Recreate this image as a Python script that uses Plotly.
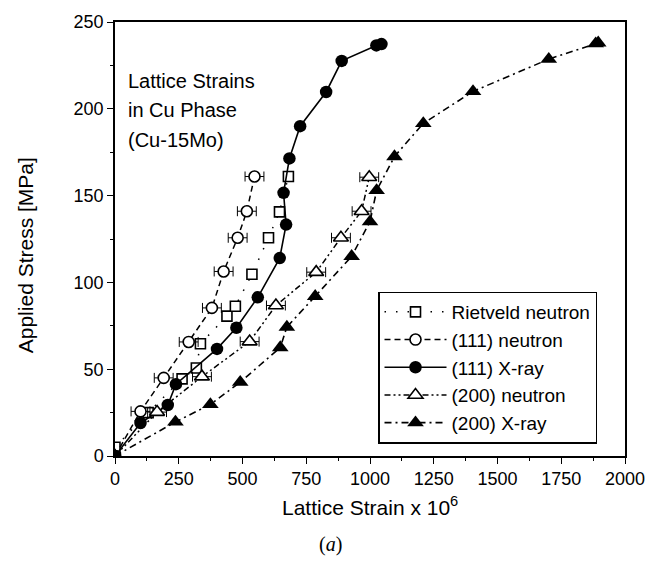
import plotly.graph_objects as go

# ---------------- data ----------------
riet_x = [0, 130, 263, 319, 335, 439, 472, 537, 602, 645, 680]
riet_y = [5, 25, 44.4, 50.7, 64.7, 80.6, 86.3, 104.7, 125.7, 140.6, 161]

n111_x = [0, 100, 191, 289, 380, 426, 481, 517, 547]
n111_y = [0, 25.7, 45, 65.7, 85.3, 106.3, 125.7, 141, 161]
n111_err = [0, 37, 37, 37, 37, 37, 37, 37, 37]

x111_x = [0, 100, 207, 239, 400, 476, 560, 646, 671, 661, 684, 726, 828, 889, 1025, 1045]
x111_y = [0, 19, 29.4, 41.4, 61.7, 73.9, 91.4, 114, 133.3, 151.6, 171.4, 190, 209.7, 227.6, 236.5, 237.3]

n200_x = [0, 165, 341, 528, 631, 789, 886, 967, 997]
n200_y = [0, 25.3, 45.7, 65.9, 86.7, 105.9, 125.7, 141, 160.6]
n200_err = [0, 37, 37, 37, 37, 37, 37, 37, 37]

x200_x = [0, 237, 374, 491, 648, 674, 785, 928, 1000, 1026, 1096, 1209, 1404, 1701, 1885, 1895]
x200_y = [0, 19.6, 29.7, 42.5, 62.5, 74.3, 92, 115, 135, 153, 172.5, 191.6, 210, 228.6, 237.5, 238]

names = ["Rietveld neutron", "(111) neutron", "(111) X-ray", "(200) neutron", "(200) X-ray"]

x_ticks = [0, 250, 500, 750, 1000, 1250, 1500, 1750, 2000]
y_ticks = [0, 50, 100, 150, 200, 250]

FONT = "Liberation Sans, Arial, sans-serif"

fig = go.Figure()

fig.add_trace(go.Scatter(
    x=riet_x, y=riet_y, name=names[0], mode="lines+markers",
    line=dict(color="black", width=1.5, dash="1.5px,10px"),
    marker=dict(symbol="square", size=10, color="white", line=dict(color="black", width=1.6)),
))
fig.add_trace(go.Scatter(
    x=n111_x, y=n111_y, name=names[1], mode="lines+markers",
    line=dict(color="black", width=1.5, dash="6px,4px"),
    marker=dict(symbol="circle", size=11, color="white", line=dict(color="black", width=1.6)),
    error_x=dict(type="data", array=n111_err, color="black", thickness=1, width=5),
))
fig.add_trace(go.Scatter(
    x=x111_x, y=x111_y, name=names[2], mode="lines+markers",
    line=dict(color="black", width=1.6),
    marker=dict(symbol="circle", size=12.5, color="black", line=dict(color="black", width=0)),
))
fig.add_trace(go.Scatter(
    x=n200_x, y=n200_y, name=names[3], mode="lines+markers",
    line=dict(color="black", width=1.5, dash="6px,3px,2px,3px,2px,3px"),
    marker=dict(symbol="triangle-up", size=13, color="white", line=dict(color="black", width=1.6)),
    error_x=dict(type="data", array=n200_err, color="black", thickness=1, width=5),
))
fig.add_trace(go.Scatter(
    x=x200_x, y=x200_y, name=names[4], mode="lines+markers",
    line=dict(color="black", width=1.6, dash="7px,4px,2px,4px"),
    marker=dict(symbol="triangle-up", size=14.5, color="black", line=dict(color="black", width=0)),
))

axis_common = dict(
    showgrid=False, zeroline=False, showline=True, linecolor="black", linewidth=1.5,
    mirror=True, ticks="outside", ticklen=6, tickwidth=1.2, tickcolor="black",
    tickfont=dict(family=FONT, size=18, color="black"),
)
fig.update_xaxes(range=[0, 2000], tickvals=x_ticks, ticktext=[str(v) for v in x_ticks],
                 minor=dict(dtick=125, tick0=0, ticks="outside", ticklen=3, tickcolor="black"),
                 **axis_common)
fig.update_yaxes(range=[0, 250], tickvals=y_ticks, ticktext=[str(v) for v in y_ticks],
                 minor=dict(dtick=25, tick0=0, ticks="outside", ticklen=3, tickcolor="black"),
                 **axis_common)

annots = [
    dict(text="Lattice Strains", x=0.0225, y=0.863),
    dict(text="in Cu Phase", x=0.0225, y=0.797),
    dict(text="(Cu-15Mo)", x=0.0225, y=0.729),
]
for a in annots:
    fig.add_annotation(xref="paper", yref="paper", xanchor="left", yanchor="middle",
                       showarrow=False, font=dict(family=FONT, size=20, color="black"), **a)

fig.add_annotation(xref="paper", yref="paper", x=-0.175, y=0.462, text="Applied Stress [MPa]",
                   textangle=-90, showarrow=False, xanchor="center", yanchor="middle",
                   font=dict(family=FONT, size=21, color="black"))
fig.add_annotation(xref="paper", yref="paper", x=0.5, y=-0.116, text="Lattice Strain x 10<sup>6</sup>",
                   showarrow=False, xanchor="center", yanchor="middle",
                   font=dict(family=FONT, size=21, color="black"))
fig.add_annotation(xref="paper", yref="paper", x=0.4217, y=-0.203, text="(<i>a</i>)",
                   showarrow=False, xanchor="center", yanchor="middle",
                   font=dict(family="Liberation Serif, Times New Roman, serif", size=20, color="black"))

fig.update_layout(
    width=663, height=572,
    margin=dict(l=114.5, r=37.5, t=18, b=116),
    paper_bgcolor="white", plot_bgcolor="white",
    showlegend=True,
    legend=dict(x=0.5157, y=0.379, xanchor="left", yanchor="top",
                bgcolor="white", bordercolor="black", borderwidth=1.5,
                font=dict(family=FONT, size=19, color="black"),
                itemwidth=62, tracegroupgap=0),
)

fig.write_html("out.html")
